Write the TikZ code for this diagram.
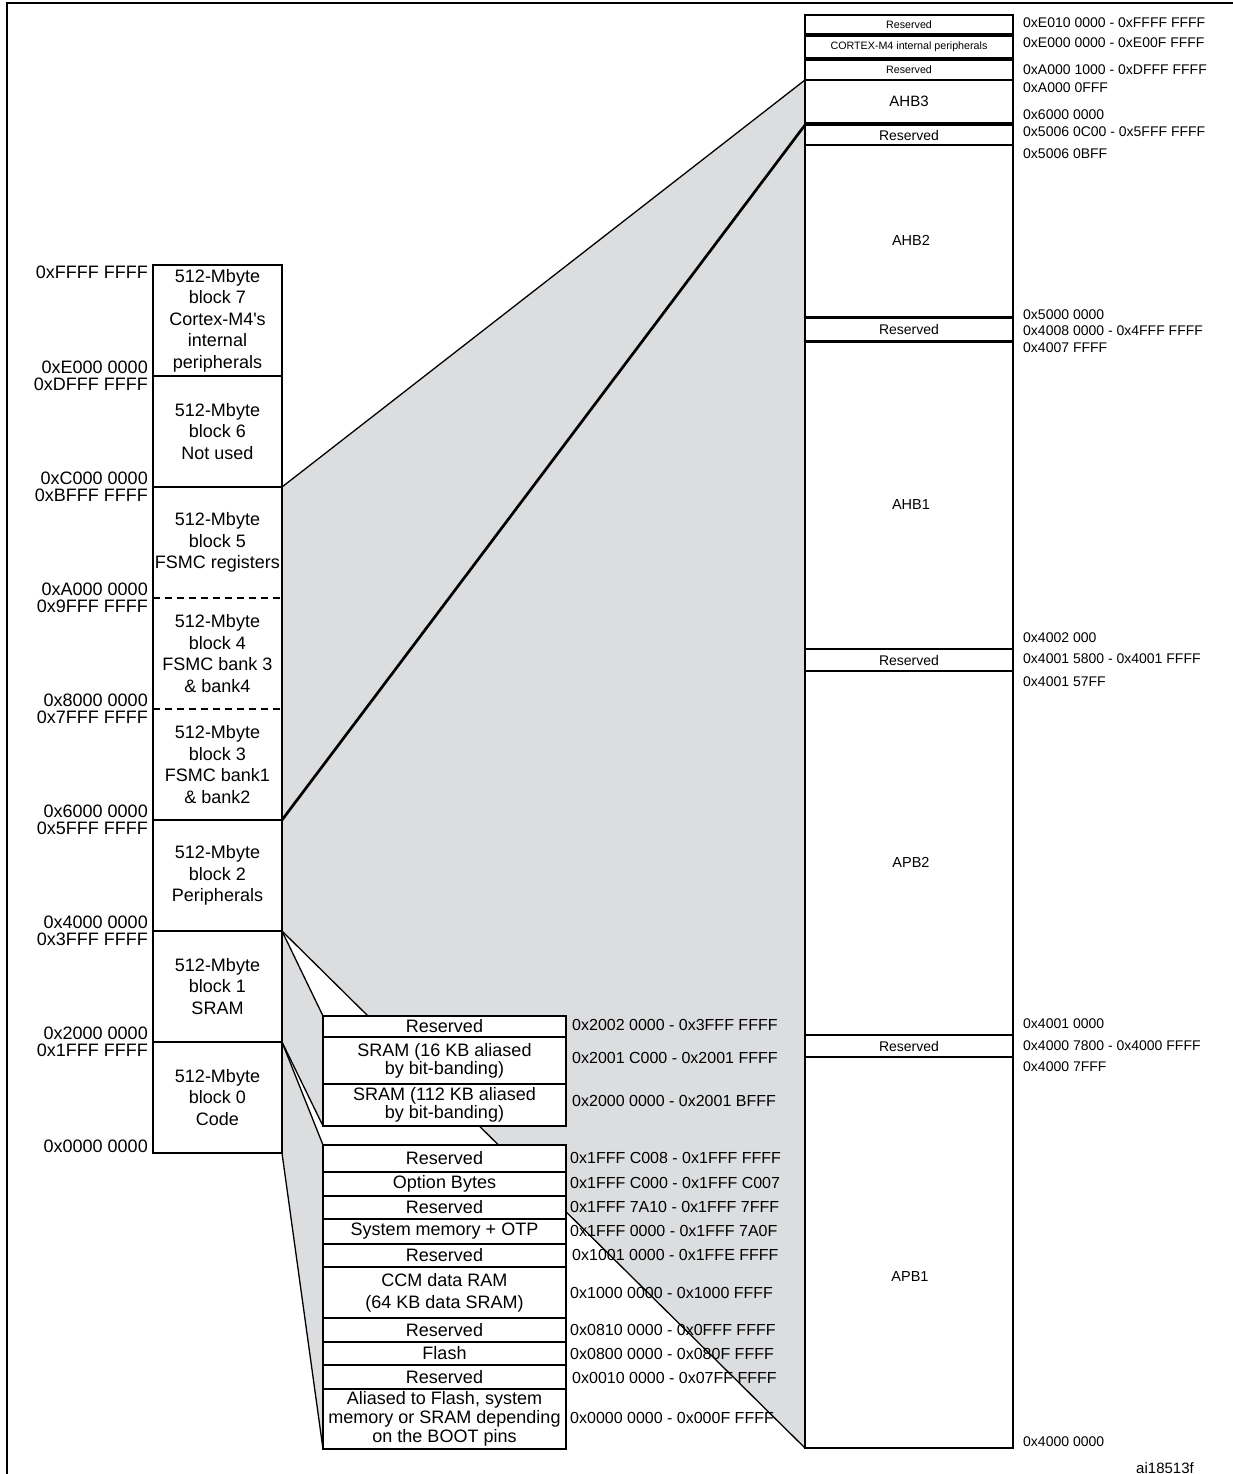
\documentclass[tikz,border=0pt]{standalone}
\usepackage{fontspec}
\setmainfont{Liberation Sans}[Ligatures=TeXOff]
\usetikzlibrary{backgrounds}
\definecolor{zoomgray}{RGB}{220,221,223}
\begin{document}
\begin{tikzpicture}[x=1pt,y=-1pt,
  colblk/.style={inner sep=0pt, outer sep=0pt, anchor=north west, minimum width=129pt, align=center, font=\fontsize{18}{21.5}\selectfont},
  lefttxt/.style={anchor=east, inner sep=0pt, font=\fontsize{18}{18}\selectfont},
  midbox/.style={draw, line width=2.2pt, fill=white, inner sep=0pt, outer sep=0pt, anchor=north west, minimum width=243pt, align=center, font=\fontsize{18}{18}\selectfont},
  midaddr/.style={anchor=west, inner sep=0pt, font=\fontsize{16}{16}\selectfont},
  rbox/.style={draw, line width=2.2pt, fill=white, inner sep=0pt, outer sep=0pt, anchor=north west, minimum width=208pt, font=\fontsize{14}{14}\selectfont},
  rsmall/.style={font=\fontsize{10.7}{11}\selectfont},
  rlabel/.style={inner sep=0pt, font=\fontsize{14.5}{14.5}\selectfont},
  raddr/.style={anchor=west, inner sep=0pt, font=\fontsize{14}{14}\selectfont},
  sepline/.style={line width=2.3pt},
  dashsep/.style={line width=2pt, dash pattern=on 7pt off 5pt},
  thinlink/.style={line width=1.3pt},
  thicklink/.style={line width=2.7pt},
]
\useasboundingbox (0,0) rectangle (1233,1474);

% frame
\draw[line width=2.6pt] (7,1474) -- (7,3) -- (1233,3);

% ---------------- left column ----------------
\node[colblk, minimum height=111pt] (b7) at (153,265) {512-Mbyte\\block 7\\Cortex-M4's\\internal\\peripherals};
\node[colblk, minimum height=111pt] (b6) at (153,376) {512-Mbyte\\block 6\\Not used};
\node[colblk, minimum height=111pt] (b5) at (153,487) {512-Mbyte\\block 5\\FSMC registers};
\node[colblk, minimum height=111pt] (b4) at (153,598) {512-Mbyte\\block 4\\FSMC bank 3\\\& bank4};
\node[colblk, minimum height=111pt] (b3) at (153,709) {512-Mbyte\\block 3\\FSMC bank1\\\& bank2};
\node[colblk, minimum height=111pt] (b2) at (153,820) {512-Mbyte\\block 2\\Peripherals};
\node[colblk, minimum height=111pt] (b1) at (153,931) {512-Mbyte\\block 1\\SRAM};
\node[colblk, minimum height=111pt] (b0) at (153,1042) {512-Mbyte\\block 0\\Code};

\draw[sepline] (b7.north west) rectangle (b0.south east);
\draw[sepline] (b7.south west) -- (b7.south east);
\draw[sepline] (b6.south west) -- (b6.south east);
\draw[dashsep] (b5.south west) -- (b5.south east);
\draw[dashsep] (b4.south west) -- (b4.south east);
\draw[sepline] (b3.south west) -- (b3.south east);
\draw[sepline] (b2.south west) -- (b2.south east);
\draw[sepline] (b1.south west) -- (b1.south east);

\node[lefttxt] (l0) at (148,272) {0xFFFF FFFF};
\node[lefttxt] (l1) at (148,367) {0xE000 0000};
\node[lefttxt] (l2) at (148,384) {0xDFFF FFFF};
\node[lefttxt] (l3) at (148,478) {0xC000 0000};
\node[lefttxt] (l4) at (148,495) {0xBFFF FFFF};
\node[lefttxt] (l5) at (148,589) {0xA000 0000};
\node[lefttxt] (l6) at (148,606) {0x9FFF FFFF};
\node[lefttxt] (l7) at (148,700) {0x8000 0000};
\node[lefttxt] (l8) at (148,717) {0x7FFF FFFF};
\node[lefttxt] (l9) at (148,811) {0x6000 0000};
\node[lefttxt] (l10) at (148,828) {0x5FFF FFFF};
\node[lefttxt] (l11) at (148,922) {0x4000 0000};
\node[lefttxt] (l12) at (148,939) {0x3FFF FFFF};
\node[lefttxt] (l13) at (148,1033) {0x2000 0000};
\node[lefttxt] (l14) at (148,1050) {0x1FFF FFFF};
\node[lefttxt] (l15) at (148,1146) {0x0000 0000};

% ---------------- middle column ----------------
\node[midbox, minimum height=21pt] (mres) at (323,1016) {Reserved};
\node[midbox, minimum height=47pt] (msram16) at (323,1037) {SRAM (16 KB aliased\\by bit-banding)};
\node[midbox, minimum height=42pt] (msram112) at (323,1084) {SRAM (112 KB aliased\\by bit-banding)};

\node[midbox, minimum height=27pt] (lres1) at (323,1145) {Reserved};
\node[midbox, minimum height=24pt] (lopt) at (323,1172) {Option Bytes};
\node[midbox, minimum height=23pt] (lres2) at (323,1196) {Reserved};
\node[midbox, minimum height=25pt] (lsys) at (323,1219) {System memory + OTP};
\node[midbox, minimum height=23pt] (lres3) at (323,1244) {Reserved};
\node[midbox, minimum height=51pt, font=\fontsize{18}{22}\selectfont] (lccm) at (323,1267) {CCM data RAM\\(64 KB data SRAM)};
\node[midbox, minimum height=24pt] (lres4) at (323,1318) {Reserved};
\node[midbox, minimum height=23pt] (lflash) at (323,1342) {Flash};
\node[midbox, minimum height=24pt] (lres5) at (323,1365) {Reserved};
\node[midbox, minimum height=60pt, font=\fontsize{18}{19}\selectfont] (lalias) at (323,1389) {Aliased to Flash, system\\memory or SRAM depending\\on the BOOT pins};

\node[midaddr] (m1) at (572,1025) {0x2002 0000 - 0x3FFF FFFF};
\node[midaddr] (m2) at (572,1058) {0x2001 C000 - 0x2001 FFFF};
\node[midaddr] (m3) at (572,1101) {0x2000 0000 - 0x2001 BFFF};
\node[midaddr] (m4) at (570,1158) {0x1FFF C008 - 0x1FFF FFFF};
\node[midaddr] (m5) at (570,1183) {0x1FFF C000 - 0x1FFF C007};
\node[midaddr] (m6) at (570,1207) {0x1FFF 7A10 - 0x1FFF 7FFF};
\node[midaddr] (m7) at (570,1231) {0x1FFF 0000 - 0x1FFF 7A0F};
\node[midaddr] (m8) at (572,1255) {0x1001 0000 - 0x1FFE FFFF};
\node[midaddr] (m9) at (570,1293) {0x1000 0000 - 0x1000 FFFF};
\node[midaddr] (m10) at (570,1330) {0x0810 0000 - 0x0FFF FFFF};
\node[midaddr] (m11) at (570,1354) {0x0800 0000 - 0x080F FFFF};
\node[midaddr] (m12) at (572,1378) {0x0010 0000 - 0x07FF FFFF};
\node[midaddr] (m13) at (570,1418) {0x0000 0000 - 0x000F FFFF};

% ---------------- right column ----------------
\node[rbox, minimum height=19pt, rsmall] (rres1) at (805,15) {Reserved};
\node[rbox, minimum height=22pt, rsmall] (rcortex) at (805,36) {CORTEX-M4 internal peripherals};
\node[rbox, minimum height=20pt, rsmall] (rres2) at (805,60) {Reserved};
\node[rbox, minimum height=43pt, font=\fontsize{15}{15}\selectfont] (ahb3) at (805,80) {AHB3};
\node[rbox, minimum height=20pt] (rres3) at (805,125) {Reserved};
\node[rbox, minimum height=172pt] (ahb2) at (805,145) {};
\node[rbox, minimum height=23pt] (rres4) at (805,318) {Reserved};
\node[rbox, minimum height=307pt] (ahb1) at (805,342) {};
\node[rbox, minimum height=22pt] (rres5) at (805,649) {Reserved};
\node[rbox, minimum height=364pt] (apb2) at (805,671) {};
\node[rbox, minimum height=22pt] (rres6) at (805,1035) {Reserved};
\node[rbox, minimum height=391pt] (apb1) at (805,1057) {};

\node[rlabel] (ahb2t) at (911,240) {AHB2};
\node[rlabel] (ahb1t) at (911,505) {AHB1};
\node[rlabel] (apb2t) at (911,862) {APB2};
\node[rlabel] (apb1t) at (910,1276) {APB1};

\node[raddr] (r1) at (1023,23) {0xE010 0000 - 0xFFFF FFFF};
\node[raddr] (r2) at (1023,43) {0xE000 0000 - 0xE00F FFFF};
\node[raddr] (r3) at (1023,70) {0xA000 1000 - 0xDFFF FFFF};
\node[raddr] (r4) at (1023,88) {0xA000 0FFF};
\node[raddr] (r5) at (1023,115) {0x6000 0000};
\node[raddr] (r6) at (1023,132) {0x5006 0C00 - 0x5FFF FFFF};
\node[raddr] (r7) at (1023,154) {0x5006 0BFF};
\node[raddr] (r8) at (1023,315) {0x5000 0000};
\node[raddr] (r9) at (1023,331) {0x4008 0000 - 0x4FFF FFFF};
\node[raddr] (r10) at (1023,348) {0x4007 FFFF};
\node[raddr] (r11) at (1023,638) {0x4002 000};
\node[raddr] (r12) at (1023,659) {0x4001 5800 - 0x4001 FFFF};
\node[raddr] (r13) at (1023,682) {0x4001 57FF};
\node[raddr] (r14) at (1023,1024) {0x4001 0000};
\node[raddr] (r15) at (1023,1046) {0x4000 7800 - 0x4000 FFFF};
\node[raddr] (r16) at (1023,1067) {0x4000 7FFF};
\node[raddr] (r17) at (1023,1442) {0x4000 0000};

\node[inner sep=0pt, font=\fontsize{15}{15}\selectfont] (ref) at (1165,1468) {ai18513f};

% ---------------- zoom shading and links ----------------
\begin{scope}[on background layer]
  \fill[zoomgray] (b6.south east) -- (ahb3.north west) -- (apb1.south west) -- (b2.south east) -- cycle;
  \fill[zoomgray] (b1.north east) -- (mres.north west) -- (msram112.south west) -- (b1.south east) -- cycle;
  \fill[zoomgray] (b0.north east) -- (lres1.north west) -- (lalias.south west) -- (b0.south east) -- cycle;
  \draw[thinlink] (b6.south east) -- (ahb3.north west);
  \draw[thicklink] (b3.south east) -- (rres3.north west);
  \draw[thinlink] (b2.south east) -- (apb1.south west);
  \draw[thinlink] (b1.north east) -- (mres.north west);
  \draw[thinlink] (b1.south east) -- (msram112.south west);
  \draw[thinlink] (b0.north east) -- (lres1.north west);
  \draw[thinlink] (b0.south east) -- (lalias.south west);
\end{scope}
\end{tikzpicture}
\end{document}
